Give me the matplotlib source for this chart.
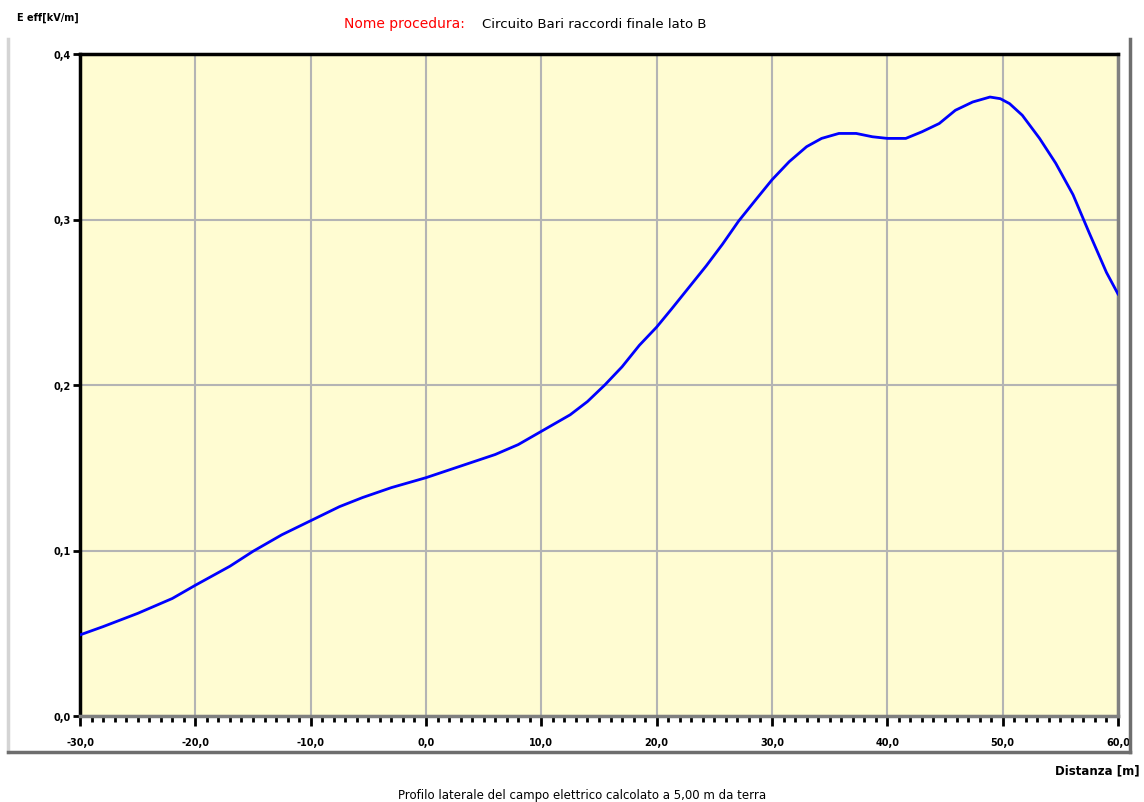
import numpy as np
import matplotlib.pyplot as plt
from matplotlib.ticker import FuncFormatter, MultipleLocator
from matplotlib.lines import Line2D

# profile (distance [m], E eff [kV/m])
dist = [-30, -28, -25, -22, -20, -17, -15, -12.5, -10, -7.5, -5.5, -3, 0, 3,
        6, 8, 10, 12.5, 14, 15.5, 17, 18.5, 20, 21.3, 22.8, 24.3, 25.7, 27.1,
        28.6, 30, 31.5, 33, 34.3, 35.8, 37.3, 38.7, 40, 41.6, 43, 44.5, 45.9,
        47.4, 48.9, 49.8, 50.6, 51.7, 53.2, 54.6, 56.1, 57.5, 59, 60]
e_eff = [0.049, 0.054, 0.062, 0.071, 0.079, 0.0905, 0.0995, 0.1095, 0.118,
         0.1265, 0.132, 0.138, 0.144, 0.151, 0.158, 0.164, 0.172, 0.182,
         0.190, 0.200, 0.211, 0.224, 0.235, 0.246, 0.259, 0.272, 0.285, 0.299,
         0.312, 0.324, 0.335, 0.344, 0.349, 0.352, 0.352, 0.350, 0.349, 0.349,
         0.353, 0.358, 0.366, 0.371, 0.374, 0.373, 0.370, 0.363, 0.349, 0.334,
         0.315, 0.292, 0.268, 0.255]

y_label = 'E eff[kV/m]'
x_label = 'Distanza [m]'
proc_key = 'Nome procedura:'
proc_name = 'Circuito Bari raccordi finale lato B'
caption = 'Profilo laterale del campo elettrico calcolato a 5,00 m da terra'

fig = plt.figure(figsize=(11.44, 8.03), dpi=100)
fig.patch.set_facecolor('white')
ax = fig.add_axes([80/1144, 1-717/803, (1118-80)/1144, (717-55)/803])
ax.set_facecolor('#fffcd2')

ax.plot(dist, e_eff, color='#0000ff', lw=2, zorder=3)

ax.set_xlim(-30, 60)
ax.set_ylim(0, 0.4)
ax.xaxis.set_major_locator(MultipleLocator(10))
ax.xaxis.set_minor_locator(MultipleLocator(1))
ax.yaxis.set_major_locator(MultipleLocator(0.1))
comma = FuncFormatter(lambda v, p: ('%.1f' % v).replace('.', ','))
ax.xaxis.set_major_formatter(comma)
ax.yaxis.set_major_formatter(comma)

ax.grid(True, which='major', color='#b4b4b4', lw=1.5, zorder=1)
ax.tick_params(axis='x', which='major', direction='out', length=7, width=2,
               color='black', labelsize=7, pad=8)
ax.tick_params(axis='x', which='minor', direction='out', length=4, width=2,
               color='black')
ax.tick_params(axis='y', which='major', direction='out', length=5, width=2,
               color='black', labelsize=7, pad=2)
for lab in ax.get_xticklabels() + ax.get_yticklabels():
    lab.set_fontweight('bold')

ax.spines['left'].set_color('black')
ax.spines['top'].set_color('black')
ax.spines['left'].set_linewidth(2.5)
ax.spines['top'].set_linewidth(2.5)
ax.spines['bottom'].set_color('#808080')
ax.spines['right'].set_color('#808080')
ax.spines['bottom'].set_linewidth(2.5)
ax.spines['right'].set_linewidth(2.5)

# outer panel frame
fig.add_artist(Line2D([8/1144, 8/1144], [1-40/803, 1-753/803],
                      color='#d4d4d4', lw=2.5, transform=fig.transFigure))
fig.add_artist(Line2D([8/1144, 1130/1144], [1-753/803, 1-753/803],
                      color='#6e6e6e', lw=2.5, transform=fig.transFigure))
fig.add_artist(Line2D([1130/1144, 1130/1144], [1-40/803, 1-753/803],
                      color='#6e6e6e', lw=2.5, transform=fig.transFigure))

fig.text(17/1144, 1-18/803, y_label, fontsize=7, fontweight='bold',
         va='center', ha='left')
fig.text(465/1144, 1-24/803, proc_key, fontsize=10, color='red',
         va='center', ha='right')
fig.text(482/1144, 1-24/803, proc_name, fontsize=9.5, color='black',
         va='center', ha='left')
fig.text(1140/1144, 1-771/803, x_label, fontsize=8.5, fontweight='bold',
         va='center', ha='right')
fig.text(582/1144, 1-796/803, caption, fontsize=8.5, color='black',
         va='center', ha='center')

fig.savefig('out.png', dpi=100)
